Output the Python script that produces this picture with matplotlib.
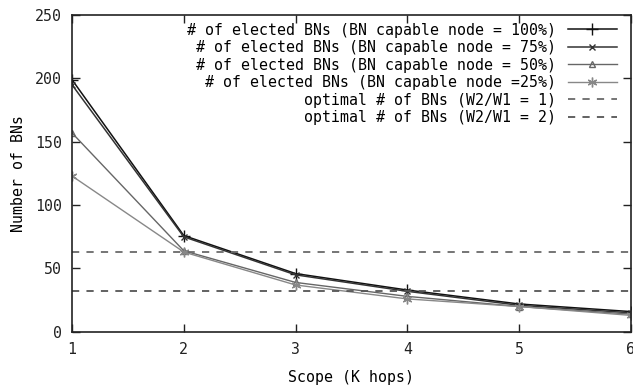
import matplotlib
matplotlib.use("Agg")
import matplotlib.pyplot as plt

# Number of elected BNs versus scope (K hops)
scope = [1, 2, 3, 4, 5, 6]
bn_100 = [199, 76, 46, 33, 22, 16]
bn_75 = [195, 75, 45, 32, 21, 15]
bn_50 = [157, 64, 39, 28, 20, 14]
bn_25 = [123, 63, 37, 26, 20, 13]
optimal_w1 = 63
optimal_w2 = 32

labels = [
    "# of elected BNs (BN capable node = 100%)",
    "# of elected BNs (BN capable node = 75%)",
    "# of elected BNs (BN capable node = 50%)",
    "# of elected BNs (BN capable node =25%)",
    "optimal # of BNs (W2/W1 = 1)",
    "optimal # of BNs (W2/W1 = 2)",
]
xticks = [1, 2, 3, 4, 5, 6]
yticks = [0, 50, 100, 150, 200, 250]

plt.rcParams["font.family"] = ["DejaVu Sans Mono"]
plt.rcParams["font.size"] = 10.7

fig = plt.figure(figsize=(6.33, 3.85), dpi=100)
ax = fig.add_axes([0.1137, 0.138, 0.883, 0.823])

ax.plot(scope, bn_100, color="#111111", lw=1.1, marker="+", ms=8, mew=1.0, label=labels[0])
ax.plot(scope, bn_75, color="#333333", lw=1.1, marker="x", ms=5, mew=1.0, label=labels[1])
ax.plot(scope, bn_50, color="#666666", lw=1.0, marker="^", ms=4.5, mew=1.0,
        markerfacecolor="none", label=labels[2])
ax.plot(scope, bn_25, color="#888888", lw=1.0, marker=(6, 2, 0), ms=7, mew=1.0, label=labels[3])
ax.axhline(optimal_w1, color="#6a6a6a", lw=1.3, ls=(0, (4, 4)), label=labels[4])
ax.axhline(optimal_w2, color="#555555", lw=1.3, ls=(0, (4, 4)), label=labels[5])

ax.set_xlim(1, 6)
ax.set_ylim(0, 250)
ax.set_xticks(xticks)
ax.set_yticks(yticks)
ax.tick_params(direction="in", length=6, width=1, top=True, right=True, pad=7, colors="#222222")
for s in ax.spines.values():
    s.set_color("#222222")
    s.set_linewidth(1.2)

ax.set_xlabel("Scope (K hops)", labelpad=10)
ax.set_ylabel("Number of BNs", labelpad=7)

leg = ax.legend(loc="upper right", markerfirst=False, frameon=False, handlelength=3.3,
                handletextpad=0.8, labelspacing=0.17, borderaxespad=0.0,
                bbox_to_anchor=(0.985, 0.995))

fig.savefig("out.png", dpi=100)
